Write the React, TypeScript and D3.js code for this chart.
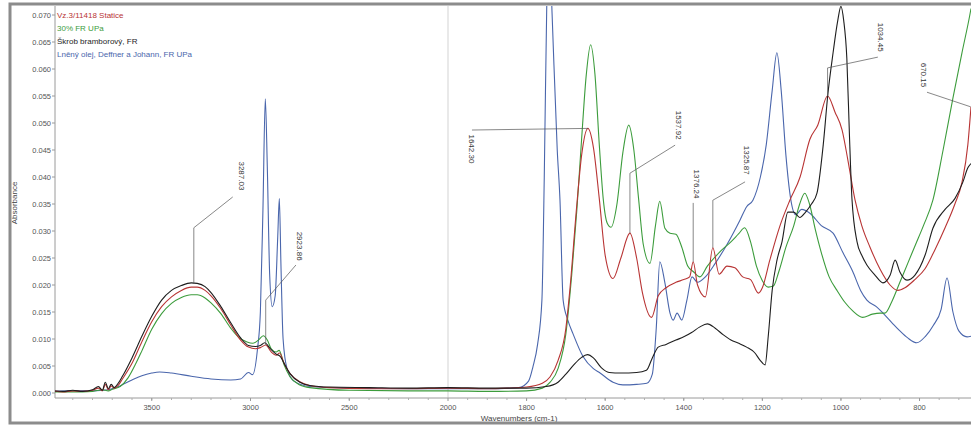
import React, { useEffect, useRef } from 'react';
import * as d3 from 'd3';

const W = 971, H = 426;

const legendNames = ["Vz.3/11418 Statice", "30% FR UPa", "Škrob bramborový, FR", "Lněný olej, Deffner a Johann, FR UPa"];
const seriesColors = ["#b83434", "#3c9c3c", "#1e1e1e", "#4a66ac"];

const statice: [number, number][] = [
  [4000,0.0004],[3950,0.0002],[3900,0.0004],[3850,0.0003],[3800,0.0005],[3770,0.0009],[3750,0.0004],[3735,0.0016],[3720,0.0006],[3705,0.0013],[3690,0.0009],[3670,0.0014],[3650,0.0025],[3600,0.0055],[3550,0.0095],[3500,0.0132],[3450,0.016],[3400,0.0178],[3350,0.019],[3300,0.0196],[3270,0.0196],[3230,0.019],[3200,0.018],[3150,0.0156],[3100,0.0126],[3050,0.0098],[3010,0.0085],[2975,0.0082],[2950,0.0084],[2923,0.0089],[2895,0.0076],[2870,0.007],[2853,0.0074],[2830,0.0055],[2800,0.0036],[2750,0.0021],[2700,0.0014],[2600,0.001],[2400,0.0008],[2200,0.0008],[2000,0.0009],[1900,0.0008],[1850,0.0009],[1800,0.0011],[1760,0.0018],[1740,0.003],[1720,0.006],[1700,0.012],[1690,0.019],[1672,0.035],[1660,0.044],[1644,0.049],[1630,0.0455],[1615,0.036],[1600,0.0255],[1580,0.0212],[1560,0.025],[1537,0.0296],[1520,0.025],[1505,0.0185],[1482,0.014],[1465,0.018],[1445,0.0195],[1420,0.0205],[1400,0.021],[1385,0.0215],[1376,0.0243],[1365,0.02],[1345,0.0178],[1326,0.0269],[1310,0.022],[1290,0.0235],[1270,0.0232],[1250,0.0215],[1230,0.021],[1210,0.0185],[1200,0.0195],[1181,0.0246],[1155,0.031],[1130,0.0357],[1104,0.04],[1079,0.047],[1059,0.0496],[1034,0.055],[1015,0.052],[997,0.0487],[982,0.043],[964,0.0357],[947,0.031],[926,0.027],[901,0.023],[875,0.02],[855,0.019],[837,0.0195],[812,0.021],[786,0.023],[761,0.0265],[735,0.0306],[710,0.035],[692,0.039],[677,0.046],[669,0.053]
];

const fr30: [number, number][] = [
  [4000,0.0002],[3900,0.0002],[3800,0.0003],[3750,0.0006],[3720,0.0004],[3700,0.0007],[3660,0.0012],[3620,0.0028],[3580,0.0055],[3550,0.0078],[3500,0.0118],[3450,0.0147],[3400,0.0166],[3350,0.0177],[3300,0.0182],[3270,0.0182],[3230,0.0176],[3200,0.0167],[3150,0.0147],[3100,0.012],[3060,0.0103],[3020,0.0095],[2990,0.0092],[2960,0.0098],[2935,0.0106],[2915,0.0098],[2895,0.0082],[2870,0.0076],[2855,0.0079],[2830,0.0052],[2800,0.003],[2750,0.0015],[2700,0.001],[2500,0.0005],[2200,0.0004],[2000,0.0004],[1900,0.0003],[1800,0.0004],[1760,0.0009],[1740,0.002],[1720,0.0045],[1700,0.011],[1685,0.022],[1672,0.034],[1660,0.047],[1648,0.059],[1637,0.0645],[1626,0.059],[1615,0.046],[1605,0.036],[1595,0.0315],[1585,0.0307],[1570,0.035],[1555,0.0445],[1540,0.0496],[1527,0.045],[1515,0.036],[1503,0.0275],[1486,0.024],[1472,0.031],[1461,0.0355],[1448,0.0305],[1435,0.0296],[1420,0.0294],[1405,0.027],[1390,0.0235],[1376,0.0225],[1359,0.0215],[1340,0.0235],[1310,0.026],[1280,0.028],[1260,0.0295],[1245,0.0306],[1230,0.028],[1215,0.0235],[1200,0.0208],[1185,0.0196],[1172,0.0198],[1158,0.0225],[1140,0.027],[1120,0.031],[1105,0.035],[1092,0.037],[1080,0.035],[1065,0.0302],[1050,0.026],[1030,0.0215],[1010,0.019],[990,0.0168],[970,0.0152],[945,0.014],[920,0.0146],[900,0.0148],[888,0.0148],[870,0.017],[850,0.0205],[830,0.024],[810,0.0275],[790,0.031],[766,0.0357],[740,0.045],[715,0.0546],[692,0.063],[672,0.07],[669,0.0712]
];

const starch: [number, number][] = [
  [4000,0.0004],[3950,0.0003],[3900,0.0005],[3850,0.0003],[3800,0.0006],[3770,0.0012],[3750,0.0005],[3735,0.002],[3720,0.0008],[3705,0.0016],[3690,0.001],[3670,0.0018],[3650,0.003],[3600,0.0065],[3550,0.0105],[3500,0.0142],[3450,0.0172],[3400,0.019],[3350,0.0199],[3300,0.0204],[3270,0.0203],[3230,0.0197],[3200,0.0186],[3150,0.016],[3100,0.013],[3050,0.0102],[3010,0.0088],[2975,0.0086],[2950,0.0088],[2928,0.0093],[2900,0.0082],[2870,0.0072],[2850,0.0068],[2820,0.0048],[2800,0.0036],[2750,0.002],[2700,0.0014],[2600,0.0011],[2400,0.001],[2200,0.0009],[2000,0.001],[1900,0.0009],[1800,0.0009],[1750,0.0012],[1720,0.002],[1700,0.0035],[1680,0.0052],[1660,0.0066],[1645,0.0071],[1630,0.0065],[1610,0.0047],[1590,0.0038],[1560,0.0037],[1520,0.0038],[1495,0.0042],[1480,0.0065],[1465,0.0085],[1445,0.009],[1420,0.0098],[1400,0.0104],[1380,0.0112],[1360,0.0122],[1340,0.0128],[1320,0.012],[1300,0.0108],[1280,0.0098],[1260,0.0092],[1240,0.0085],[1220,0.0075],[1205,0.006],[1193,0.0052],[1185,0.0105],[1175,0.019],[1163,0.0245],[1150,0.028],[1135,0.0335],[1120,0.0335],[1105,0.0325],[1090,0.0335],[1075,0.035],[1061,0.037],[1045,0.046],[1033,0.0555],[1020,0.063],[1008,0.069],[1000,0.0716],[993,0.069],[985,0.062],[978,0.047],[972,0.036],[959,0.028],[947,0.0255],[934,0.0237],[913,0.0218],[893,0.0204],[875,0.0218],[862,0.0246],[850,0.0224],[832,0.0209],[812,0.0218],[786,0.0255],[766,0.0305],[735,0.034],[710,0.036],[690,0.039],[677,0.0417],[669,0.0425]
];

const linseed: [number, number][] = [
  [4000,0.0003],[3900,0.0004],[3800,0.0004],[3720,0.0006],[3680,0.001],[3640,0.0017],[3600,0.0024],[3550,0.0032],[3500,0.0037],[3460,0.0039],[3400,0.0037],[3300,0.0031],[3200,0.0026],[3100,0.0024],[3050,0.0026],[3010,0.0038],[2990,0.0034],[2965,0.008],[2950,0.015],[2937,0.034],[2925,0.0545],[2915,0.042],[2903,0.022],[2890,0.016],[2875,0.018],[2862,0.029],[2854,0.036],[2846,0.024],[2835,0.01],[2815,0.0045],[2780,0.0022],[2700,0.0012],[2500,0.0009],[2200,0.0008],[2000,0.0008],[1900,0.0008],[1820,0.001],[1795,0.0022],[1784,0.0048],[1772,0.009],[1761,0.0172],[1755,0.04],[1748,0.075],[1743,0.085],[1735,0.07],[1722,0.045],[1715,0.0357],[1707,0.0172],[1695,0.0135],[1682,0.011],[1656,0.0067],[1630,0.0045],[1613,0.0037],[1580,0.002],[1555,0.0015],[1520,0.0016],[1494,0.0018],[1480,0.0035],[1470,0.012],[1461,0.0243],[1448,0.0204],[1435,0.0148],[1427,0.0135],[1417,0.0148],[1405,0.0135],[1392,0.0172],[1379,0.0215],[1365,0.0205],[1345,0.0215],[1320,0.024],[1290,0.0275],[1257,0.032],[1240,0.0345],[1224,0.0357],[1205,0.04],[1190,0.046],[1175,0.056],[1163,0.063],[1152,0.056],[1140,0.044],[1128,0.036],[1115,0.033],[1100,0.034],[1079,0.0333],[1050,0.031],[1020,0.0296],[995,0.026],[970,0.0225],[950,0.019],[934,0.0172],[910,0.016],[893,0.0148],[870,0.013],[850,0.0115],[830,0.0102],[807,0.0093],[785,0.0105],[765,0.0125],[745,0.0155],[730,0.0213],[715,0.015],[700,0.0115],[679,0.0104],[669,0.0105]
];

const allSeries = [statice, fr30, starch, linseed];
const drawOrder = [3, 1, 0, 2];

const yTicks = d3.range(0, 0.0701, 0.005);
const xMajorTicks = [3500, 3000, 2500, 2000, 1800, 1600, 1400, 1200, 1000, 800];

const peakLabels = ["3287.03", "2923.86", "1642.30", "1537.92", "1376.24", "1325.87", "1034.45", "670.15"];
const peakPoints: [number, number][] = [[3287,0.0202],[2923,0.0089],[1644,0.049],[1537,0.0296],[1376,0.0243],[1326,0.0269],[1034,0.055],[670,0.053]];
const peakElbows: ([number, number] | null)[] = [[3287,0.0306],[2923,0.0172],null,[1537,0.0407],null,[1326,0.0357],[1034,0.0602],null];
const peakLeaderEnds: [number, number][] = [[3090,0.0363],[2770,0.0237],[1939,0.0487],[1422,0.0459],[1376,0.0352],[1244,0.0391],[906,0.0622],[781,0.0557]];
const peakTextPos: [number, number][] = [[3043,0.0402],[2749,0.0272],[1939,0.0452],[1412,0.0496],[1366,0.0387],[1239,0.0431],[898,0.0659],[789,0.0589]];

export default function App() {
  const ref = useRef<SVGSVGElement>(null);
  useEffect(() => {
    const svg = d3.select(ref.current);
    svg.selectAll('*').remove();
    const font = "'Liberation Sans', Arial, sans-serif";
    const left = 55, right = 971, top = 6, bottom = 398;

    const x = d3.scaleLinear().domain([4000, 2000, 669]).range([53, 448, 971]);
    const y = d3.scaleLinear().domain([0, 0.07]).range([393, 15]);

    svg.append('rect').attr('width', W).attr('height', H).attr('fill', '#fff');

    svg.append('defs').append('clipPath').attr('id', 'plotclip')
      .append('rect').attr('x', left).attr('y', top).attr('width', right - left).attr('height', bottom - top);

    // 2000 divider
    svg.append('line').attr('x1', x(2000)).attr('x2', x(2000)).attr('y1', top).attr('y2', bottom)
      .attr('stroke', '#c8c8c8').attr('stroke-width', 0.8);

    // axes
    svg.append('line').attr('x1', left).attr('x2', left).attr('y1', top).attr('y2', bottom).attr('stroke', '#9a9a9a');
    svg.append('line').attr('x1', left).attr('x2', right).attr('y1', bottom).attr('y2', bottom).attr('stroke', '#9a9a9a');

    const fmt = d3.format('.3f');
    yTicks.forEach(v => {
      svg.append('line').attr('x1', left - 3).attr('x2', left).attr('y1', y(v)).attr('y2', y(v)).attr('stroke', '#9a9a9a');
      svg.append('text').attr('x', left - 4).attr('y', y(v)).attr('dy', '0.35em').attr('text-anchor', 'end')
        .attr('font-family', font).attr('font-size', 7.5).attr('fill', '#555').text(fmt(v));
    });

    const minor: number[] = [];
    for (let v = 3900; v > 2000; v -= 100) minor.push(v);
    for (let v = 1950; v > 669; v -= 50) minor.push(v);
    minor.forEach(v => {
      svg.append('line').attr('x1', x(v)).attr('x2', x(v)).attr('y1', bottom).attr('y2', bottom + 2).attr('stroke', '#b0b0b0');
    });
    xMajorTicks.forEach(v => {
      svg.append('line').attr('x1', x(v)).attr('x2', x(v)).attr('y1', bottom).attr('y2', bottom + 3).attr('stroke', '#9a9a9a');
      svg.append('text').attr('x', x(v)).attr('y', 410).attr('text-anchor', 'middle')
        .attr('font-family', font).attr('font-size', 7.5).attr('fill', '#555').text(String(v));
    });

    svg.append('text').attr('x', 519).attr('y', 421).attr('text-anchor', 'middle')
      .attr('font-family', font).attr('font-size', 8).attr('fill', '#444').text('Wavenumbers (cm-1)');
    svg.append('text').attr('transform', 'translate(17,203) rotate(-90)').attr('text-anchor', 'middle')
      .attr('font-family', font).attr('font-size', 8).attr('fill', '#444').text('Absorbance');

    const line = d3.line<[number, number]>().x(d => x(d[0])).y(d => y(d[1])).curve(d3.curveMonotoneX);
    const g = svg.append('g').attr('clip-path', 'url(#plotclip)');
    drawOrder.forEach(i => {
      g.append('path').attr('d', line(allSeries[i]) as string).attr('fill', 'none')
        .attr('stroke', seriesColors[i]).attr('stroke-width', 1.1).attr('stroke-linejoin', 'round');
    });

    // peak labels
    peakLabels.forEach((lab, i) => {
      const pts: [number, number][] = [peakPoints[i]];
      const e = peakElbows[i];
      if (e) pts.push(e);
      pts.push(peakLeaderEnds[i]);
      svg.append('path').attr('d', d3.line<[number, number]>().x(d => x(d[0])).y(d => y(d[1]))(pts) as string)
        .attr('fill', 'none').attr('stroke', '#555').attr('stroke-width', 0.7);
      const t = peakTextPos[i];
      svg.append('text').attr('transform', `translate(${x(t[0])},${y(t[1])}) rotate(90)`)
        .attr('text-anchor', 'middle').attr('dy', '0.35em')
        .attr('font-family', font).attr('font-size', 8).attr('fill', '#333').text(lab);
    });

    // legend
    legendNames.forEach((n, i) => {
      svg.append('text').attr('x', 57).attr('y', 15 + i * 13).attr('dy', '0.35em')
        .attr('font-family', font).attr('font-size', 8).attr('fill', seriesColors[i]).text(n);
    });

    // outer frame
    svg.append('rect').attr('x', 10).attr('y', 4).attr('width', 990).attr('height', 419)
      .attr('fill', 'none').attr('stroke', '#8c8c8c').attr('stroke-width', 3);
  }, []);
  return (
    <div style={{ position: 'absolute', left: 0, top: 0 }}>
      <svg ref={ref} width={W} height={H} style={{ display: 'block' }} />
    </div>
  );
}
